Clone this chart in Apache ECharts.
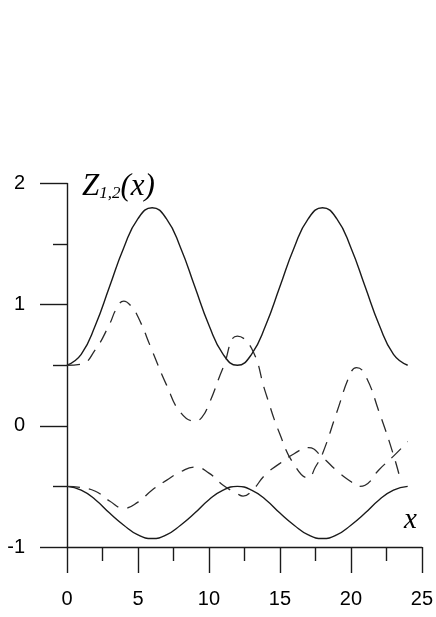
<!DOCTYPE html>
<html>
<head>
<meta charset="utf-8">
<script src="https://cdn.jsdelivr.net/npm/echarts@6/dist/echarts.min.js"></script>
<style>
  html, body { margin: 0; padding: 0; background: #fff; }
  #chart { width: 436px; height: 617px; }
</style>
</head>
<body>
<div id="chart"></div>
<script>
// solid curves, sampled at x = 0..24
let solidX = [0,1,2,3,4,5,6,7,8,9,10,11,12,13,14,15,16,17,18,19,20,21,22,23,24]
let upperSolid = [0.5,0.59,0.83,1.15,1.47,1.71,1.8,1.71,1.47,1.15,0.83,0.59,0.5,0.59,0.83,1.15,1.47,1.71,1.8,1.71,1.47,1.15,0.83,0.59,0.5]
let lowerSolid = [-0.5,-0.53,-0.61,-0.72,-0.82,-0.9,-0.93,-0.9,-0.82,-0.72,-0.61,-0.53,-0.5,-0.53,-0.61,-0.72,-0.82,-0.9,-0.93,-0.9,-0.82,-0.72,-0.61,-0.53,-0.5]

// dashed curves
let dashAX = [0,1,2,3,3.5,4,4.5,5,6,7,8,9,9.5,10,11,12,13,14,15,16,17,17.5,18,19,20,20.4,21,22,23,23.5]
let dashAY = [0.5,0.51,0.63,0.84,0.97,1.03,0.99,0.9,0.62,0.34,0.11,0.04,0.07,0.18,0.48,0.74,0.64,0.27,-0.07,-0.32,-0.43,-0.34,-0.23,0.11,0.44,0.48,0.42,0.11,-0.24,-0.45]
let dashBX = [0,1,2,3,4,5,6,7,8,9,10,11,12,12.4,13,14,15,16,17,18,19,20,20.6,21,22,23,24]
let dashBY = [-0.5,-0.51,-0.54,-0.62,-0.68,-0.63,-0.53,-0.45,-0.38,-0.34,-0.39,-0.49,-0.56,-0.58,-0.54,-0.4,-0.31,-0.23,-0.18,-0.26,-0.37,-0.46,-0.5,-0.49,-0.36,-0.25,-0.13]

let xTicks = [0, 25, 5]   // min, max, step
let yTicks = [-1, 2, 1]

let pair = (xs, ys) => xs.map((x, i) => [x, ys[i]])

let lineCol = '#1a1a1a'
let dash = [13, 9]

let instance = echarts.init(document.getElementById('chart'))
let axisCommon = {
    axisLine: { show: true, onZero: false, lineStyle: { color: lineCol, width: 1.4 } },
    axisTick: { show: true, inside: false, lineStyle: { color: lineCol, width: 1.4 } },
    minorTick: { show: true, splitNumber: 2, lineStyle: { color: lineCol, width: 1.4 } },
    splitLine: { show: false },
    axisLabel: { color: '#000', fontSize: 20, fontFamily: 'Liberation Sans' }
}
let option = {
    animation: false,
    backgroundColor: '#fff',
    grid: { left: 67, right: 8, top: 183.5, bottom: 70, containLabel: false },
    xAxis: Object.assign({}, axisCommon, {
        type: 'value',
        min: xTicks[0], max: xTicks[1], interval: xTicks[2],
        axisTick: Object.assign({}, axisCommon.axisTick, { length: 26 }),
        minorTick: Object.assign({}, axisCommon.minorTick, { length: 14 }),
        axisLabel: Object.assign({}, axisCommon.axisLabel, { margin: 42 })
    }),
    yAxis: Object.assign({}, axisCommon, {
        type: 'value',
        min: yTicks[0], max: yTicks[1], interval: yTicks[2],
        axisTick: Object.assign({}, axisCommon.axisTick, { length: 27 }),
        minorTick: Object.assign({}, axisCommon.minorTick, { length: 14 }),
        axisLabel: Object.assign({}, axisCommon.axisLabel, { margin: 42 })
    }),
    graphic: [
        {
            type: 'text', left: 82, top: 171,
            style: {
                text: '{z|Z}{s|1,2}{z|(x)}',
                rich: {
                    z: { fontSize: 31, fontStyle: 'italic', fontFamily: 'Liberation Serif', fill: '#000', verticalAlign: 'bottom', lineHeight: 34 },
                    s: { fontSize: 17, fontStyle: 'italic', fontFamily: 'Liberation Serif', fill: '#000', verticalAlign: 'bottom', lineHeight: 22 }
                }
            }
        },
        {
            type: 'text', left: 404, top: 506,
            style: { text: 'x', fontSize: 29, fontStyle: 'italic', fontFamily: 'Liberation Serif', fill: '#000' }
        }
    ],
    series: [
        { type: 'line', data: pair(solidX, upperSolid), smooth: true, showSymbol: false, lineStyle: { color: lineCol, width: 1.4 } },
        { type: 'line', data: pair(solidX, lowerSolid), smooth: true, showSymbol: false, lineStyle: { color: lineCol, width: 1.4 } },
        { type: 'line', data: pair(dashAX, dashAY), smooth: true, showSymbol: false, lineStyle: { color: '#2a2a2a', width: 1.3, type: dash } },
        { type: 'line', data: pair(dashBX, dashBY), smooth: true, showSymbol: false, lineStyle: { color: '#2a2a2a', width: 1.3, type: dash } }
    ]
}
instance.setOption(option)
</script>
</body>
</html>
